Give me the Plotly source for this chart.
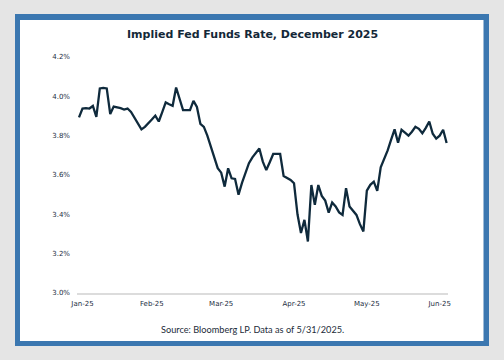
import pandas as pd
import plotly.graph_objects as go

# ---- data ----
dates = [d.strftime("%Y-%m-%d") for d in pd.bdate_range("2025-01-02", "2025-05-30")]
rate = [
    3.893, 3.938, 3.940, 3.938, 3.951, 3.896, 4.040, 4.043, 4.040, 3.910,
    3.948, 3.945, 3.940, 3.933, 3.938, 3.921, 3.890, 3.860, 3.832, 3.845,
    3.862, 3.882, 3.902, 3.872, 3.920, 3.969, 3.960, 3.952, 4.045, 3.990,
    3.930, 3.930, 3.930, 3.977, 3.946, 3.860, 3.845, 3.800, 3.745, 3.700,
    3.635, 3.612, 3.541, 3.634, 3.583, 3.580, 3.500, 3.560, 3.609, 3.660,
    3.690, 3.715, 3.735, 3.668, 3.625, 3.665, 3.707, 3.707, 3.707, 3.595,
    3.585, 3.575, 3.558, 3.400, 3.305, 3.372, 3.262, 3.549, 3.448, 3.549,
    3.494, 3.470, 3.409, 3.460, 3.440, 3.410, 3.397, 3.533, 3.440, 3.420,
    3.397, 3.350, 3.313, 3.520, 3.550, 3.566, 3.519, 3.639, 3.680, 3.725,
    3.780, 3.832, 3.764, 3.830, 3.815, 3.800, 3.820, 3.845, 3.835, 3.812,
    3.840, 3.872, 3.810, 3.785, 3.800, 3.830, 3.763,
]
tick_idx = [1, 21, 41, 62, 83, 104]
tick_labels = ["Jan-25", "Feb-25", "Mar-25", "Apr-25", "May-25", "Jun-25"]
y_ticks = [3.0, 3.2, 3.4, 3.6, 3.8, 4.0, 4.2]

title_text = "Implied Fed Funds Rate, December 2025"
source_text = "Source: Bloomberg LP. Data as of 5/31/2025."

# ---- layout geometry (pixels) ----
W, H = 504, 360
L, R, T, B = 77, 56, 57, 67
PW, PH = W - L - R, H - T - B


def px(x):
    return (x - L) / PW


def py(y):
    return (H - B - y) / PH


fig = go.Figure()
fig.add_trace(go.Scatter(
    x=dates, y=rate, mode="lines",
    line=dict(color="#0f2a3c", width=2.3),
    hoverinfo="skip",
))

fig.update_layout(
    width=W, height=H,
    margin=dict(l=L, r=R, t=T, b=B),
    paper_bgcolor="#e5e5e5",
    plot_bgcolor="rgba(0,0,0,0)",
    showlegend=False,
    font=dict(family="DejaVu Sans", color="#1a2d3e", size=7),
    shapes=[
        dict(type="rect", xref="paper", yref="paper", layer="below",
             x0=px(15), x1=px(489), y0=py(346), y1=py(14),
             fillcolor="#3b77b0", line=dict(width=0)),
        dict(type="rect", xref="paper", yref="paper", layer="below",
             x0=px(20), x1=px(483.5), y0=py(341), y1=py(20),
             fillcolor="#ffffff", line=dict(width=0)),
    ],
    annotations=[
        dict(text="<b>" + title_text + "</b>", xref="paper", yref="paper",
             x=px(252), y=py(34), xanchor="center", yanchor="middle",
             showarrow=False, font=dict(family="DejaVu Sans", size=11, color="#142838")),
        dict(text=source_text, xref="paper", yref="paper",
             x=px(252), y=py(329), xanchor="center", yanchor="middle",
             showarrow=False, font=dict(family="Lato", size=9.2, color="#1c2c3a")),
    ],
)

fig.update_xaxes(
    type="category",
    range=[-0.58, 106.4],
    tickmode="array",
    tickvals=[dates[i] for i in tick_idx],
    ticktext=tick_labels,
    showgrid=False, zeroline=False,
    showline=True, linecolor="#dcdcdc", linewidth=1.5,
    ticks="", ticklabelstandoff=3,
)
fig.update_yaxes(
    range=[3.0, 4.2],
    tickmode="array",
    tickvals=y_ticks,
    ticktext=[f"{v:.1f}%" for v in y_ticks],
    showgrid=False, zeroline=False, showline=False,
    ticks="", ticklabelstandoff=6,
)

fig.write_html(
    "out.html",
    config={"displayModeBar": False, "staticPlot": True},
    post_script="document.body.style.margin='0';document.body.style.overflow='hidden';",
)
